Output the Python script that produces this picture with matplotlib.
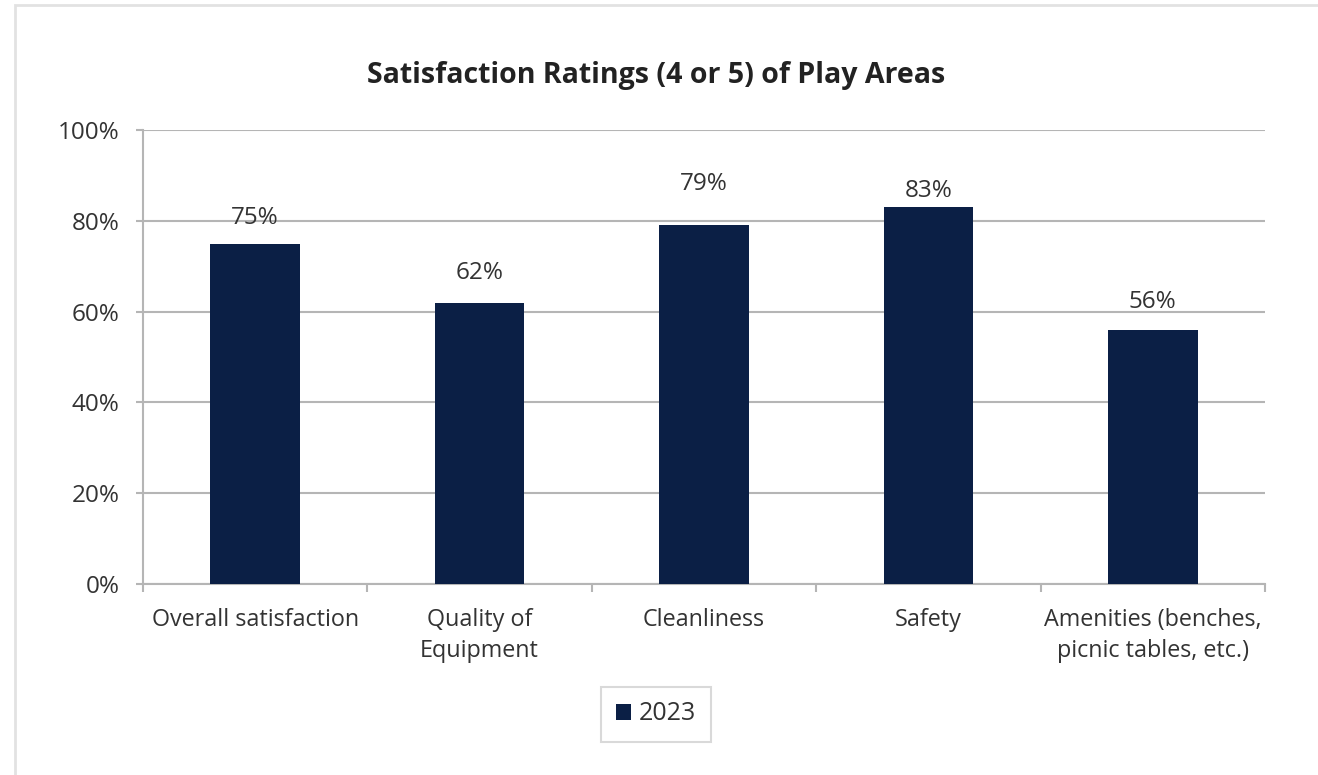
import matplotlib.pyplot as plt
from matplotlib.patches import Rectangle
from matplotlib.ticker import FuncFormatter

plt.rcParams['font.family'] = ['Open Sans', 'DejaVu Sans']

# data
categories = ["Overall satisfaction", "Quality of\nEquipment", "Cleanliness",
              "Safety", "Amenities (benches,\npicnic tables, etc.)"]
values_2023 = [75, 62, 79, 83, 56]
series_name = "2023"

# label offsets above each bar (pixels), as in the original layout
label_offsets_px = [25, 30, 41, 16, 28]

BAR_COLOR = "#0b1f45"
GRID_COLOR = "#b5b5b5"
TEXT_COLOR = "#333333"

fig = plt.figure(figsize=(13.18, 7.75), dpi=100)
# card border
fig.patches.append(Rectangle((15 / 1318, -0.01), 1.0, 1 - 5 / 775 + 0.01,
                             transform=fig.transFigure, fill=False,
                             edgecolor="#e2e2e2", linewidth=2))

ax = fig.add_axes([143 / 1318, 1 - 584 / 775, 1122 / 1318, 454 / 775])

x = range(len(categories))
bars = ax.bar(x, values_2023, width=0.4, color=BAR_COLOR, label=series_name, zorder=3)

for b, v, off in zip(bars, values_2023, label_offsets_px):
    ax.annotate(f"{v}%", (b.get_x() + b.get_width() / 2, v),
                xytext=(0, off * 0.72), textcoords="offset points",
                ha="center", va="center", fontsize=17.5, color=TEXT_COLOR, zorder=4)

ax.set_ylim(0, 100)
ax.set_xlim(-0.5, len(categories) - 0.5)
ax.set_yticks(range(0, 101, 20))
ax.yaxis.set_major_formatter(FuncFormatter(lambda v, p: f"{int(v)}%"))
ax.grid(axis="y", color=GRID_COLOR, linewidth=1.5, zorder=0)

ax.set_xticks(list(x))
ax.set_xticklabels(categories, fontsize=16.8, color=TEXT_COLOR, linespacing=1.4)
ax.tick_params(axis="x", length=0, pad=17)
# tick marks between categories
ax.set_xticks([i - 0.5 for i in range(len(categories) + 1)], minor=True)
ax.tick_params(axis="x", which="minor", length=6, color=GRID_COLOR, width=1.5)
ax.tick_params(axis="y", labelsize=17.5, labelcolor=TEXT_COLOR, length=5,
               color=GRID_COLOR, width=1.5, pad=12)

for s in ["top", "right"]:
    ax.spines[s].set_visible(False)
for s in ["left", "bottom"]:
    ax.spines[s].set_color(GRID_COLOR)
    ax.spines[s].set_linewidth(1.5)

fig.text(656 / 1318, 1 - 76 / 775, "Satisfaction Ratings (4 or 5) of Play Areas",
         ha="center", va="center", fontsize=20.5, fontweight="bold", color="#222222")

leg = fig.legend(loc="center", bbox_to_anchor=(656 / 1318, 1 - 714 / 775),
                 fontsize=18, frameon=True, fancybox=False, handlelength=0.6,
                 handleheight=0.6, handletextpad=0.3, borderpad=0.6)
leg.get_frame().set_edgecolor("#d0d0d0")
leg.get_frame().set_linewidth(1.5)
for t in leg.get_texts():
    t.set_color(TEXT_COLOR)

fig.savefig("out.png", dpi=100)
